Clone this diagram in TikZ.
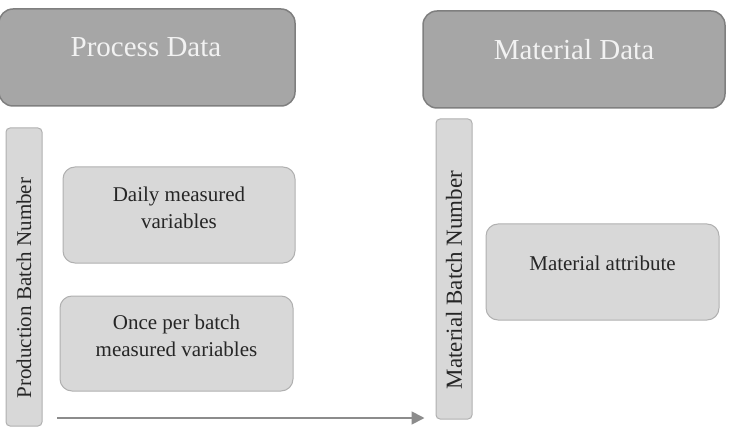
\documentclass[tikz,border=0pt]{standalone}
\usepackage{fontspec}
\setmainfont{Liberation Serif}
\usetikzlibrary{arrows.meta,positioning,calc}
\definecolor{head}{HTML}{A6A6A6}
\definecolor{headline}{HTML}{7F7F7F}
\definecolor{soft}{HTML}{D8D8D8}
\definecolor{softline}{HTML}{B0B0B0}
\definecolor{ink}{HTML}{262626}

\begin{document}
\begin{tikzpicture}[x=1pt,y=1pt,>={Triangle[length=13pt,width=13pt]},
  header/.style={draw=headline,fill=head,line width=1.5pt,rounded corners=14pt,
    minimum height=97pt,inner sep=0pt},
  card/.style={draw=softline,fill=soft,line width=1pt,rounded corners=12pt,
    minimum width=232pt,minimum height=96pt,inner sep=0pt},
  bar/.style={draw=softline,fill=soft,line width=1pt,rounded corners=4pt,
    minimum width=36pt,inner sep=0pt},
  headtext/.style={text=white!95!black,font=\fontsize{29}{32}\selectfont},
  cardtext/.style={text=ink,align=center,font=\fontsize{21}{27}\selectfont},
  bartext/.style={text=ink,rotate=90,font=\fontsize{21}{24}\selectfont},
  flow/.style={->,draw=headline!90,line width=1.8pt}]
\useasboundingbox (0,0) rectangle (730,-446);
% headers
\node[header,minimum width=296pt] (proc) at (147,-57.5) {};
\node[header,minimum width=302pt] (mat) at (574,-59.5) {};
\node[headtext] (proc-t) at (146,-47) {Process Data};
\node[headtext] (mat-t) at (574,-50) {Material Data};
% batch number bars
\node[bar,minimum height=298pt] (pbn) at (24,-277) {};
\node[bar,minimum height=300pt] (mbn) at (454,-269) {};
\node[bartext] (pbn-t) at (24,-288) {Production Batch Number};
\node[bartext,font=\fontsize{23}{26}\selectfont] (mbn-t) at (454,-280) {Material Batch Number};
% variable groups
\node[card] (daily) at (179,-215) {};
\node[card,minimum width=233pt,minimum height=95pt] (once) at (176.5,-343.5) {};
\node[card,minimum width=233pt] (attr) at (602.5,-272) {};
\node[cardtext] (daily-t) at (179,-208) {Daily measured\\variables};
\node[cardtext] (once-t) at (176.5,-336) {Once per batch\\measured variables};
\node[cardtext] (attr-t) at (602.5,-263) {Material attribute};
% link
\coordinate (start) at (57,-418);
\draw[flow,shorten >=11pt] (start) -- (start -| mbn.west);
\end{tikzpicture}
\end{document}
